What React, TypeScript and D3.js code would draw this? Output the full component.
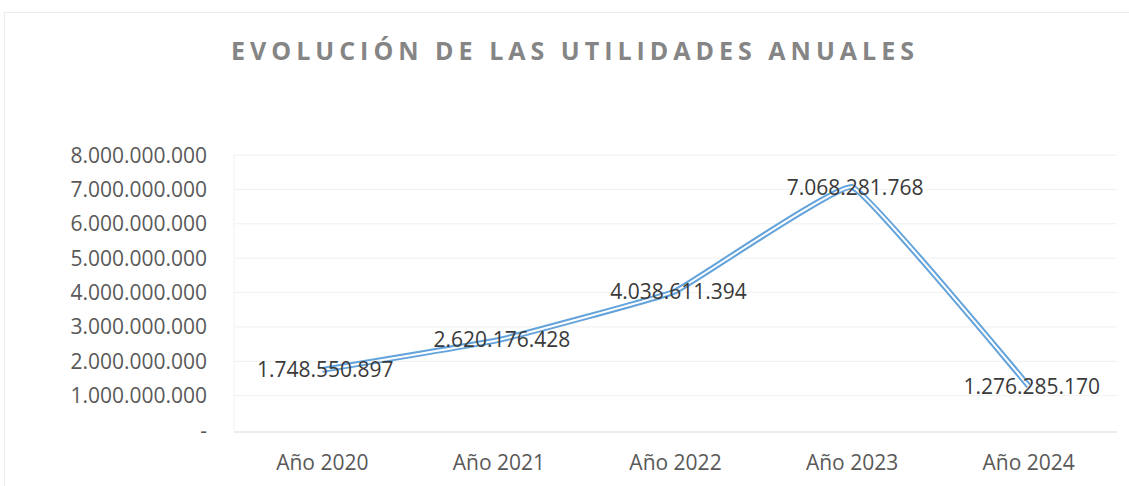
import React from "react";
import * as d3 from "d3";

const title = "EVOLUCIÓN DE LAS UTILIDADES ANUALES";
const categories = ["Año 2020", "Año 2021", "Año 2022", "Año 2023", "Año 2024"];
const values = [1748550897, 2620176428, 4038611394, 7068281768, 1276285170];
const yTicks = [0, 1e9, 2e9, 3e9, 4e9, 5e9, 6e9, 7e9, 8e9];

const W = 1129;
const H = 486;
const M = { left: 234, right: 1117, top: 155, bottom: 430 };
const FONT = "'Open Sans', 'Liberation Sans', sans-serif";

const fmt = (v: number) =>
  v === 0 ? "-" : Math.round(v).toString().replace(/\B(?=(\d{3})+(?!\d))/g, ".");

export default function App() {
  const x = d3
    .scalePoint<string>()
    .domain(categories)
    .range([M.left, M.right])
    .padding(0.5);
  const y = d3.scaleLinear().domain([0, 8e9]).range([M.bottom, M.top]);

  const pts: [number, number][] = values.map((v, i) => [x(categories[i])!, y(v)]);
  const line = d3.line().curve(d3.curveCardinal.tension(0.75))(pts) || "";

  return (
    <div style={{ position: "absolute", left: 0, top: 0 }}>
      <svg width={W} height={H} style={{ display: "block", background: "#fff" }}>
        <rect x={4.5} y={12.5} width={W - 4} height={H} fill="none" stroke="#ececec" />
        <text
          x={231}
          y={60}
          textAnchor="start"
          fontFamily={FONT}
          fontWeight={700}
          fontSize={25}
          fill="#858585"
          textLength={683}
          lengthAdjust="spacing"
        >
          {title}
        </text>
        {yTicks.map((t) => (
          <g key={t}>
            {t > 0 && (
              <line x1={M.left} x2={M.right} y1={y(t)} y2={y(t)} stroke="#f0f0f0" strokeWidth={1} />
            )}
            <text
              x={207}
              y={y(t)}
              dy="0.36em"
              textAnchor="end"
              fontFamily={FONT}
              fontSize={21}
              fill="#595959"
            >
              {fmt(t)}
            </text>
          </g>
        ))}
        <line x1={M.left} x2={M.left} y1={M.top} y2={y(0)} stroke="#f0f0f0" />
        <line x1={M.left} x2={M.right} y1={y(0) + 2} y2={y(0) + 2} stroke="#d9d9d9" strokeWidth={1.2} />
        {categories.map((c) => (
          <text
            key={c}
            x={x(c)!}
            y={470}
            textAnchor="middle"
            fontFamily={FONT}
            fontSize={21}
            fill="#595959"
          >
            {c}
          </text>
        ))}
        <path d={line} fill="none" stroke="#63a3db" strokeWidth={6} strokeLinejoin="round" />
        <path d={line} fill="none" stroke="#ffffff" strokeWidth={2} strokeLinejoin="round" />
        {values.map((v, i) => (
          <text
            key={i}
            x={pts[i][0] + 3}
            y={pts[i][1]}
            dy="0.36em"
            textAnchor="middle"
            fontFamily={FONT}
            fontSize={21}
            fill="#3a3a3a"
          >
            {fmt(v)}
          </text>
        ))}
      </svg>
    </div>
  );
}
